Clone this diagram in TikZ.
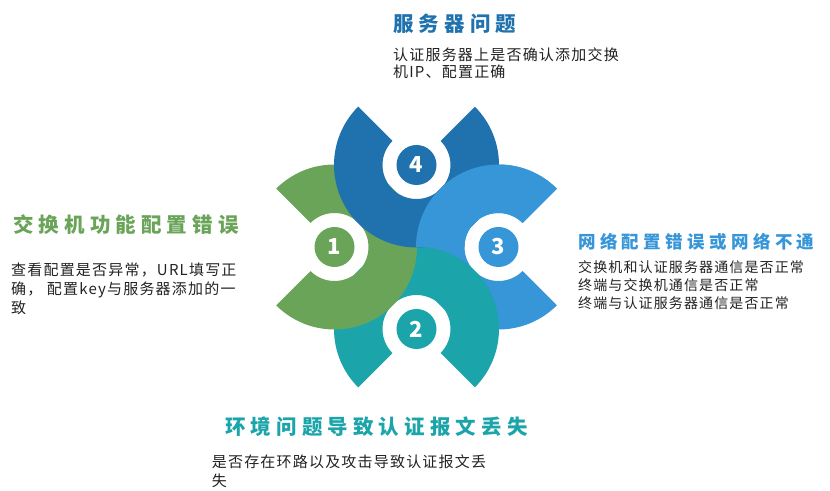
\documentclass[tikz,border=0pt]{standalone}
\usepackage{fontspec}
\setmainfont{Noto Sans CJK SC}
\newfontfamily\titlefont[LetterSpace=25]{Noto Sans CJK SC}
\newfontfamily\bodyfont[LetterSpace=8]{Noto Sans CJK SC}
\usepackage{tikz}
\usetikzlibrary{calc, positioning}
\definecolor{PetalGreen}{RGB}{106,164,89}
\definecolor{PetalTeal}{RGB}{27,164,170}
\definecolor{PetalSky}{RGB}{55,150,216}
\definecolor{PetalNavy}{RGB}{31,114,173}
\definecolor{BodyGray}{RGB}{34,34,34}

\begin{document}
\begin{tikzpicture}[x=1pt, y=1pt,
    numcirc/.style={circle, minimum size=40pt, inner sep=0pt, text=white, font=\fontsize{22}{22}\selectfont\bfseries},
    heading/.style={anchor=base west, inner sep=0pt, font=\titlefont\bfseries\fontsize{20.5}{24}\selectfont},
    desc/.style={anchor=base west, inner sep=0pt, align=left, text=BodyGray, font=\bodyfont\fontsize{15}{18.5}\selectfont}]
    \useasboundingbox (0,0) rectangle (830,490);

    % 花瓣中心
    \coordinate (o) at (416.5,243);
    \coordinate (c1) at ($(o)+(-82,0)$);
    \coordinate (c2) at ($(o)+(0,-82)$);
    \coordinate (c3) at ($(o)+(82,0)$);
    \coordinate (c4) at ($(o)+(0,82)$);

    % 3. 网络配置 (浅蓝，开口朝右)
    \fill[PetalSky] ($(c3)+(45:82.5pt)$) arc[start angle=45, delta angle=270, radius=82.5pt]
        -- ($(c3)+(-45:34pt)$) arc[start angle=-45, delta angle=-270, radius=34pt] -- cycle;

    % 2. 环境问题 (青色，开口朝下)
    \fill[PetalTeal] ($(c2)+(315:82.5pt)$) arc[start angle=315, delta angle=270, radius=82.5pt]
        -- ($(c2)+(225:34pt)$) arc[start angle=225, delta angle=-270, radius=34pt] -- cycle;

    % 1. 交换机配置 (绿色，开口朝左)
    \fill[PetalGreen] ($(c1)+(225:82.5pt)$) arc[start angle=225, delta angle=270, radius=82.5pt]
        -- ($(c1)+(135:34pt)$) arc[start angle=135, delta angle=-270, radius=34pt] -- cycle;

    % 4. 服务器问题 (深蓝，开口朝上)
    \fill[PetalNavy] ($(c4)+(135:82.5pt)$) arc[start angle=135, delta angle=270, radius=82.5pt]
        -- ($(c4)+(45:34pt)$) arc[start angle=45, delta angle=-270, radius=34pt] -- cycle;

    % 浅蓝上半部分压在深蓝之上
    \begin{scope}
        \clip ($(o)+(-2,0)$) rectangle ++(150,100);
        \fill[PetalSky] ($(c3)+(45:82.5pt)$) arc[start angle=45, delta angle=270, radius=82.5pt]
            -- ($(c3)+(-45:34pt)$) arc[start angle=-45, delta angle=-270, radius=34pt] -- cycle;
    \end{scope}

    % 编号圆
    \node[numcirc, fill=PetalGreen] (n1) at (c1) {1};
    \node[numcirc, fill=PetalTeal] (n2) at (c2) {2};
    \node[numcirc, fill=PetalSky] (n3) at (c3) {3};
    \node[numcirc, fill=PetalNavy] (n4) at (c4) {4};

    % 文字说明 (多行文字以末行基线定位)
    \node[heading, text=PetalNavy] (t4) at (393,458) {服务器问题};
    \node[desc, font=\bodyfont\fontsize{15}{16.8}\selectfont] (d4) at (393,412.6) {认证服务器上是否确认添加交换\\机IP、配置正确};

    \node[heading, text=PetalGreen] (t1) at (13,257) {交换机功能配置错误};
    \node[desc, font=\bodyfont\fontsize{15}{19}\selectfont] (d1) at (11,176.8) {查看配置是否异常，URL填写正\\确， 配置key与服务器添加的一\\致};

    \node[heading, text=PetalSky, font=\titlefont\bfseries\fontsize{17.5}{20}\selectfont] (t3) at (578,241.7) {网络配置错误或网络不通};
    \node[desc, font=\bodyfont\fontsize{14}{17.9}\selectfont] (d3) at (578,181.4) {交换机和认证服务器通信是否正常\\终端与交换机通信是否正常\\终端与认证服务器通信是否正常};

    \node[heading, text=PetalTeal] (t2) at (225,55.3) {环境问题导致认证报文丢失};
    \node[desc] (d2) at (211.7,4) {是否存在环路以及攻击导致认证报文丢\\失};
\end{tikzpicture}
\end{document}
